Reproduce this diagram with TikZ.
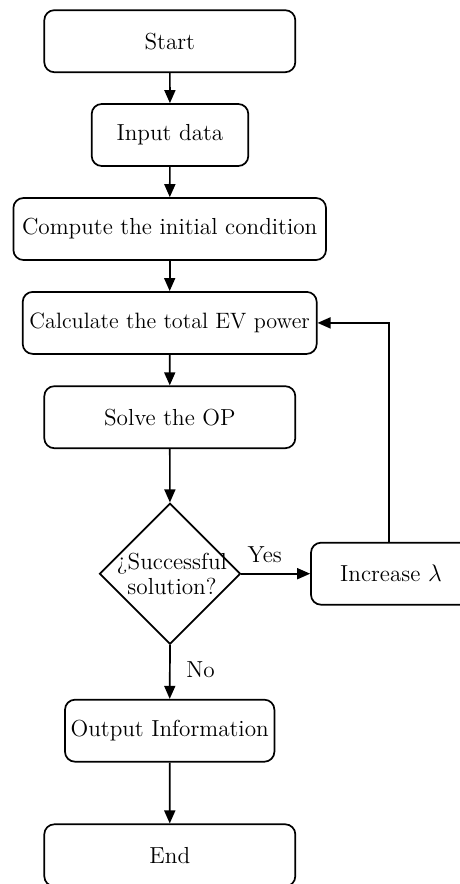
\documentclass[tikz,border=0pt]{standalone}
\usetikzlibrary{arrows.meta,shapes.geometric}
\begin{document}
\begin{tikzpicture}[x=0.5pt,y=-0.5pt,
  font=\fontsize{11.6}{12.5}\selectfont,
  box/.style={draw, line width=0.85pt, rounded corners=5pt, minimum height=31pt, inner xsep=0pt, inner ysep=1pt, align=center},
  dia/.style={draw, line width=0.85pt, diamond, aspect=1, minimum width=70.5pt, minimum height=70.5pt, inner sep=0pt},
  arr/.style={line width=0.85pt, -{Triangle[length=6.5pt,width=5.5pt]}}]
\useasboundingbox (0,0) rectangle (460,884);
\node[box, minimum width=125.5pt] (start) at (169.8,41.2) {Start};
\node[box, minimum width=78.3pt] (input) at (170,135) {Input data};
\node[box, minimum width=156.3pt] (comp) at (169.7,229) {Compute the initial condition};
\node[box, minimum width=147pt, font=\fontsize{11.1}{12.5}\selectfont] (calc) at (169.7,322.9) {Calculate the total EV power};
\node[box, minimum width=125.5pt] (solve) at (169.8,417.2) {Solve the OP};
\node[dia] (dec) at (170,573.7) {};
\node[align=center, inner sep=0pt] (dect) at (172,574) {¿Successful\\solution?};
\node[box, minimum width=80pt] (inc) at (391,573.7) {Increase $\lambda$};
\node[box, minimum width=104.7pt] (out) at (169.7,730.7) {Output Information};
\node[box, minimum width=125.5pt] (end) at (169.8,855.3) {End};
\draw[arr] (start) -- (input);
\draw[arr] (input) -- (comp);
\draw[arr] (comp) -- (calc);
\draw[arr] (calc) -- (solve);
\draw[arr] (solve) -- (dec);
\draw[arr] (dec.east) -- node[above=1.5pt, pos=0.34] (yes) {Yes} (inc.west);
\draw[arr] ([xshift=-1pt]inc.north) |- (calc.east);
\draw[arr] (dec.south) -- node[right=4.5pt, pos=0.45] (no) {No} (out.north);
\draw[arr] (out) -- (end);
\end{tikzpicture}
\end{document}
